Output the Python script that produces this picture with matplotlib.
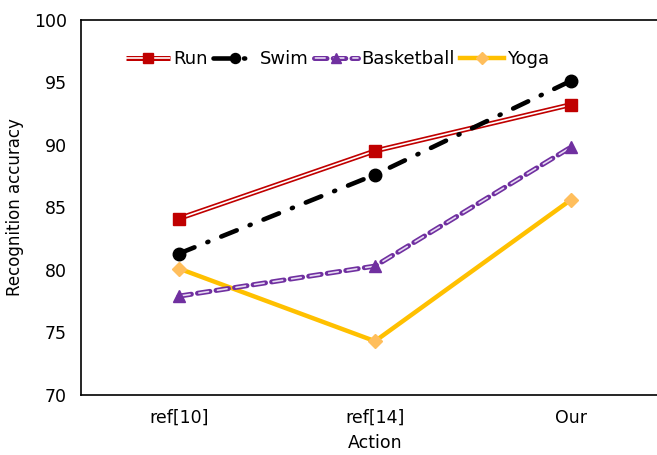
import numpy as np
import matplotlib
matplotlib.use("Agg")
import matplotlib.pyplot as plt
from matplotlib.legend_handler import HandlerTuple

plt.rcParams['font.family'] = ['DejaVu Sans']
plt.rcParams['lines.scale_dashes'] = False

# data
actions = ["ref[10]", "ref[14]", "Our"]
run = [84.1, 89.5, 93.2]
swim = [81.3, 87.6, 95.1]
basketball = [77.9, 80.3, 89.8]
yoga = [80.1, 74.3, 85.6]

x = np.arange(len(actions))

fig = plt.figure(figsize=(6.57, 4.55), dpi=100)
ax = fig.add_axes([81 / 657, 1 - 395 / 455, 588 / 657, 375.5 / 455])

# Run : double red line
r1, = ax.plot(x, run, color="#C00000", lw=3.6, zorder=3, solid_capstyle="butt")
r2, = ax.plot(x, run, color="white", lw=1.2, zorder=3.1, solid_capstyle="butt")
r3, = ax.plot(x, run, ls="none", marker="s", ms=8.5, color="#C00000", zorder=3.2)

# Swim : black dash-dot
s1, = ax.plot(x, swim, color="black", lw=3.3, ls=(0, (12, 10, 0.8, 10)),
              dash_capstyle="round", marker="o", ms=9, zorder=4)

# Basketball : dashed purple double line
b1, = ax.plot(x, basketball, color="#7030A0", lw=3.6, ls=(0, (9, 4.5)),
              dash_capstyle="round", zorder=2)
b2, = ax.plot(x, basketball, color="#E6DAF2", lw=1.2, ls=(12.5, (7, 6.5)),
              dash_capstyle="round", zorder=2.1)
b3, = ax.plot(x, basketball, ls="none", marker="^", ms=9, color="#7030A0", zorder=2.2)

# Yoga : orange line
y1, = ax.plot(x, yoga, color="#FFC000", lw=3.2, zorder=1)
y2, = ax.plot(x, yoga, ls="none", marker="D", ms=7.5, color="#FFBE5C", zorder=1.1)

ax.set_xlim(-0.5, 2.5)
ax.set_ylim(70, 100)
ax.set_yticks(np.arange(70, 101, 5))
ax.set_xticks(x)
ax.set_xticklabels(actions)
ax.tick_params(length=0, labelsize=12.5, pad=10)
ax.spines['right'].set_visible(False)
for s in ['left', 'top', 'bottom']:
    ax.spines[s].set_linewidth(1.2)
ax.set_xlabel("Action", fontsize=12.5, labelpad=5)
ax.set_ylabel("Recognition accuracy", fontsize=12, labelpad=7)

ax.legend([(r1, r2, r3), s1, (b1, b2, b3), (y1, y2)],
          ["Run", "Swim", "Basketball", "Yoga"],
          handler_map={tuple: HandlerTuple(ndivide=1, pad=0)},
          ncol=4, frameon=False, fontsize=13, loc="upper left",
          bbox_to_anchor=(0.065, 0.938), handlelength=2.4, markerscale=0.8,
          handletextpad=0.2, columnspacing=0.3, borderaxespad=0)

fig.savefig("out.png", dpi=100)
